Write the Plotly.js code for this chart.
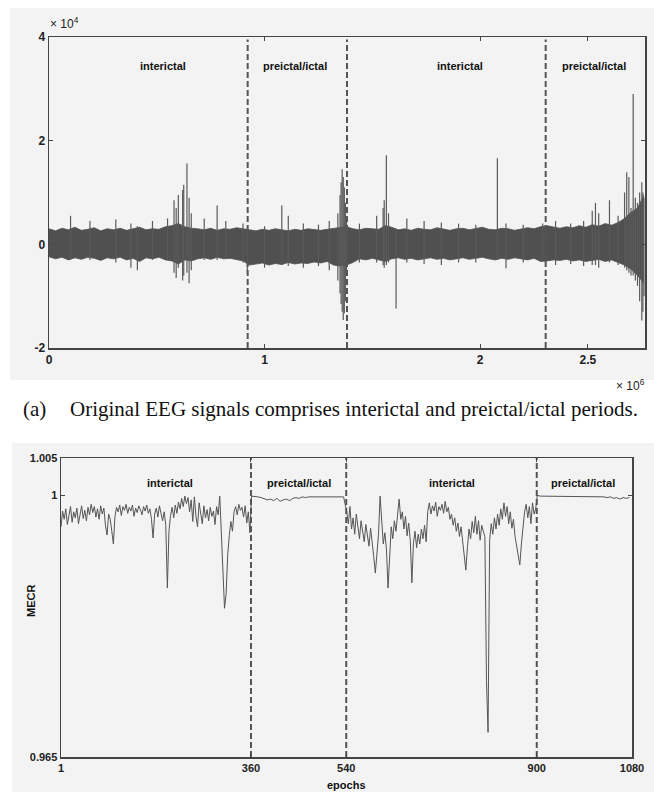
<!DOCTYPE html>
<html>
<head>
<meta charset="utf-8">
<script src="https://cdn.plot.ly/plotly-3.0.1.min.js"></script>
<style>
  html, body { margin: 0; padding: 0; background: #ffffff; }
  #chart { width: 654px; height: 794px; }
</style>
</head>
<body>
<div id="chart"></div>
<script>
// ---------------- DATA ----------------
// Period boundaries (epochs) and labels
const boundaryEpochs = [360, 540, 900];
const periodLabels = ["interictal", "preictal/ictal", "interictal", "preictal/ictal"];
const samplesPerEpoch = 2560;

// Top panel: EEG envelope (x in 1e6 samples, step 0.03; y in 1e4 units)
const envStep = 0.03;
const envUpper = [
  0.30, 0.26, 0.31, 0.28, 0.33, 0.27, 0.29, 0.32, 0.26, 0.30,
  0.28, 0.31, 0.27, 0.30, 0.33, 0.28, 0.30, 0.29, 0.34, 0.36,
  0.40, 0.34, 0.31, 0.30, 0.28, 0.31, 0.27, 0.30, 0.29, 0.32,
  0.30, 0.28, 0.26, 0.29, 0.27, 0.30, 0.28, 0.26, 0.29, 0.27,
  0.30, 0.28, 0.27, 0.29, 0.31, 0.32, 0.34, 0.30, 0.28, 0.31,
  0.30, 0.29, 0.36, 0.33, 0.28, 0.30, 0.27, 0.31, 0.29, 0.28,
  0.32, 0.29, 0.27, 0.30, 0.31, 0.28, 0.30, 0.33, 0.29, 0.28,
  0.31, 0.30, 0.27, 0.29, 0.32, 0.30, 0.34, 0.36, 0.33, 0.31,
  0.34, 0.32, 0.36, 0.33, 0.38, 0.35, 0.40, 0.37, 0.42, 0.50,
  0.62, 0.70, 0.95
];
const envLower = [
  -0.24, -0.28, -0.25, -0.30, -0.26, -0.29, -0.25, -0.27, -0.31, -0.26,
  -0.28, -0.25, -0.30, -0.27, -0.33, -0.26, -0.28, -0.25, -0.30, -0.32,
  -0.38, -0.30, -0.32, -0.28, -0.26, -0.29, -0.25, -0.28, -0.27, -0.30,
  -0.32, -0.40, -0.38, -0.36, -0.40, -0.37, -0.39, -0.35, -0.38, -0.36,
  -0.37, -0.34, -0.36, -0.33, -0.40, -0.42, -0.40, -0.35, -0.28, -0.30,
  -0.27, -0.30, -0.33, -0.28, -0.26, -0.29, -0.27, -0.30, -0.28, -0.26,
  -0.29, -0.27, -0.30, -0.28, -0.26, -0.29, -0.27, -0.25, -0.28, -0.30,
  -0.27, -0.29, -0.26, -0.28, -0.30, -0.27, -0.33, -0.32, -0.30, -0.31,
  -0.29, -0.32, -0.30, -0.33, -0.31, -0.29, -0.33, -0.30, -0.35, -0.40,
  -0.48, -0.60, -0.75
];

// Top panel: individual spikes (x in 1e6 samples, hi/lo in 1e4 units)
const spikeX = [
  0.10, 0.19, 0.31, 0.38, 0.41, 0.48, 0.55, 0.58, 0.59, 0.60, 0.62, 0.625, 0.64, 0.65, 0.66, 0.72, 0.78, 0.82, 0.90, 0.92,
  1.00, 1.08, 1.11, 1.18, 1.25, 1.30, 1.34, 1.35, 1.355, 1.36, 1.365, 1.37, 1.375, 1.38,
  1.44, 1.52, 1.55, 1.555, 1.565, 1.575, 1.61, 1.66, 1.74, 1.82, 1.90, 1.98, 2.08, 2.12, 2.20, 2.29,
  2.35, 2.42, 2.48, 2.52, 2.535, 2.55, 2.60, 2.64, 2.67, 2.68, 2.69, 2.70, 2.71, 2.72, 2.73, 2.74, 2.75, 2.755, 2.76
];
const spikeHi = [
  0.55, 0.45, 0.48, 0.40, 0.35, 0.45, 0.50, 0.85, 0.70, 0.95, 1.05, 1.15, 1.56, 0.90, 0.60, 0.50, 0.75, 0.45, 0.40, 0.30,
  0.35, 0.75, 0.55, 0.40, 0.38, 0.45, 0.60, 0.95, 1.20, 1.45, 1.30, 1.10, 0.80, 0.50,
  0.40, 0.55, 0.70, 0.85, 1.72, 0.60, 0.30, 0.50, 0.45, 0.42, 0.40, 0.38, 1.66, 0.40, 0.38, 0.40,
  0.45, 0.40, 0.45, 0.65, 0.80, 0.60, 0.85, 0.55, 1.00, 1.39, 1.30, 0.70, 2.90, 0.90, 0.80, 1.00, 1.20, 1.00, 0.90
];
const spikeLo = [
  -0.30, -0.30, -0.35, -0.45, -0.50, -0.30, -0.30, -0.55, -0.65, -0.45, -0.70, -0.60, -0.55, -0.75, -0.50, -0.30, -0.30, -0.28, -0.35, -0.55,
  -0.45, -0.40, -0.42, -0.45, -0.42, -0.50, -0.70, -0.95, -1.15, -1.30, -1.46, -1.33, -1.10, -0.60,
  -0.35, -0.35, -0.40, -0.45, -0.40, -0.35, -1.24, -0.35, -0.38, -0.40, -0.35, -0.35, -0.30, -0.46, -0.35, -0.30,
  -0.40, -0.38, -0.42, -0.40, -0.40, -0.45, -0.35, -0.40, -0.45, -0.50, -0.55, -0.60, -0.60, -0.70, -0.80, -1.10, -1.47, -1.30, -1.00
];

// Bottom panel: MECR per epoch
const ic1Start = 1, ic1Step = 3;
const ic1Values = [
  0.9958, 0.9979, 0.9968, 0.9982, 0.9961, 0.9975, 0.9985, 0.9964, 0.9978, 0.9970,
  0.9983, 0.9962, 0.9976, 0.9986, 0.9969, 0.9980, 0.9966, 0.9984, 0.9974, 0.9988,
  0.9977, 0.9985, 0.9971, 0.9982, 0.9968, 0.9986, 0.9975, 0.9983, 0.9960, 0.9947,
  0.9975, 0.9968, 0.9952, 0.9935, 0.9972, 0.9984, 0.9978, 0.9987, 0.9973, 0.9985,
  0.9980, 0.9988, 0.9976, 0.9984, 0.9979, 0.9987, 0.9972, 0.9983, 0.9977, 0.9986,
  0.9981, 0.9974, 0.9985, 0.9979, 0.9987, 0.9976, 0.9982, 0.9968, 0.9943, 0.9975,
  0.9983, 0.9971, 0.9986, 0.9974, 0.9966, 0.9978, 0.9960, 0.9876, 0.9952, 0.9973,
  0.9984, 0.9970, 0.9987, 0.9976, 0.9991, 0.9982, 0.9996, 0.9985, 0.9999, 0.9989,
  0.9997, 0.9978, 0.9994, 0.9965, 0.9998, 0.9972, 0.9958, 0.9990, 0.9975, 0.9962,
  0.9986, 0.9970, 0.9981, 0.9966, 0.9984, 0.9972, 0.9979, 0.9961, 0.9985, 0.9974,
  0.9999, 0.9955, 0.9898, 0.9849, 0.9868, 0.9920, 0.9946, 0.9965, 0.9952, 0.9978,
  0.9985, 0.9974, 0.9988, 0.9980, 0.9984, 0.9971, 0.9986, 0.9963, 0.9978, 0.9950
];
const pre1Start = 361, pre1Step = 6;
const pre1Values = [
  0.9999, 0.9999, 0.9998, 0.9997, 0.9996, 0.9994, 0.9995, 0.9993, 0.9996, 0.9992,
  0.9994, 0.9995, 0.9993, 0.9996, 0.9997, 0.9996, 0.9998, 0.9997, 0.9998, 0.9998,
  0.9999, 0.9998, 0.9999, 0.9999, 0.9999, 0.9999, 0.9998, 0.9999, 0.9999, 0.9998
];
const ic2Start = 541, ic2Step = 3;
const ic2Values = [
  0.9978, 0.9962, 0.9985, 0.9955, 0.9970, 0.9948, 0.9975, 0.9958, 0.9942, 0.9966,
  0.9950, 0.9938, 0.9961, 0.9945, 0.9932, 0.9956, 0.9940, 0.9918, 0.9896, 0.9925,
  0.9948, 0.9999, 0.9960, 0.9935, 0.9950, 0.9928, 0.9876, 0.9910, 0.9958, 0.9942,
  0.9966, 0.9952, 0.9972, 0.9995, 0.9968, 0.9978, 0.9955, 0.9972, 0.9946, 0.9963,
  0.9940, 0.9883, 0.9936, 0.9952, 0.9930, 0.9948, 0.9935, 0.9955, 0.9942, 0.9960,
  0.9938, 0.9978, 0.9990, 0.9975, 0.9986, 0.9979, 0.9991, 0.9972, 0.9985, 0.9980,
  0.9988, 0.9976, 0.9992, 0.9978, 0.9984, 0.9968, 0.9975, 0.9960, 0.9970, 0.9952,
  0.9963, 0.9945, 0.9958, 0.9938, 0.9921, 0.9900, 0.9930, 0.9955, 0.9942, 0.9965,
  0.9950, 0.9972, 0.9948, 0.9966, 0.9940, 0.9960, 0.9952, 0.9945, 0.9752, 0.9683,
  0.9940, 0.9962, 0.9948, 0.9970, 0.9955, 0.9975, 0.9960, 0.9982, 0.9968, 0.9990,
  0.9972, 0.9985, 0.9962, 0.9978, 0.9956, 0.9968, 0.9945, 0.9930, 0.9918, 0.9907,
  0.9935, 0.9960, 0.9978, 0.9988, 0.9970, 0.9985, 0.9962, 0.9990, 0.9975, 0.9982
];
const pre2Start = 901, pre2Step = 6;
const pre2Values = [
  1.0000, 0.9999, 0.9999, 0.9999, 0.9999, 0.9998, 0.9999, 0.9999, 0.9999, 0.9998,
  0.9999, 0.9999, 0.9999, 0.9999, 0.9998, 0.9999, 0.9999, 0.9998, 0.9999, 0.9998,
  0.9999, 0.9998, 0.9997, 0.9998, 0.9996, 0.9997, 0.9995, 0.9997, 0.9996, 0.9997
];

// Tick labels
const topXTicks = [0, 1, 2, 2.5];
const topYTicks = [-2, 0, 2, 4];
const botXTicks = [1, 360, 540, 900, 1080];
const botYTicks = [0.965, 1, 1.005];
const botYTickText = ["0.965", "1", "1.005"];
const captionTag = "(a)";
const captionText = "Original EEG signals comprises interictal and preictal/ictal periods.";

// ---------------- BUILD ----------------
function seqX(start, step, n) { const a = []; for (let i = 0; i < n; i++) a.push(start + i * step); return a; }

const envX = seqX(0, envStep, envUpper.length);
const spX = [], spY = [];
spikeX.forEach((x, i) => { spX.push(x, x, null); spY.push(spikeLo[i], spikeHi[i], null); });

const mecrX = [].concat(
  seqX(ic1Start, ic1Step, ic1Values.length),
  seqX(pre1Start, pre1Step, pre1Values.length),
  seqX(ic2Start, ic2Step, ic2Values.length),
  seqX(pre2Start, pre2Step, pre2Values.length)
);
const mecrY = [].concat(ic1Values, pre1Values, ic2Values, pre2Values);

const topBoundX = boundaryEpochs.map(e => e * samplesPerEpoch / 1e6);
const topMaxX = 1080 * samplesPerEpoch / 1e6;

const sigColor = '#505050';
const traces = [];
traces.push({ x: envX, y: envLower, xaxis: 'x', yaxis: 'y', mode: 'lines', line: { color: sigColor, width: 0.8 }, hoverinfo: 'skip', showlegend: false });
traces.push({ x: envX, y: envUpper, xaxis: 'x', yaxis: 'y', mode: 'lines', fill: 'tonexty', fillcolor: sigColor, line: { color: sigColor, width: 0.8 }, hoverinfo: 'skip', showlegend: false });
traces.push({ x: spX, y: spY, xaxis: 'x', yaxis: 'y', mode: 'lines', line: { color: '#5a5a5a', width: 1.2 }, hoverinfo: 'skip', showlegend: false, connectgaps: false });
topBoundX.forEach(bx => traces.push({ x: [bx, bx], y: [-2, 3.95], xaxis: 'x', yaxis: 'y', mode: 'lines', line: { color: '#555', width: 2, dash: '6px,3px' }, showlegend: false, hoverinfo: 'skip' }));
traces.push({ x: mecrX, y: mecrY, xaxis: 'x2', yaxis: 'y2', mode: 'lines', line: { color: '#555555', width: 1 }, showlegend: false, hoverinfo: 'skip' });
boundaryEpochs.forEach(be => traces.push({ x: [be, be], y: [0.965, 1.005], xaxis: 'x2', yaxis: 'y2', mode: 'lines', line: { color: '#555', width: 2, dash: '6px,3px' }, showlegend: false, hoverinfo: 'skip' }));

const W = 654, H = 794;
const px = v => v / W, py = v => 1 - v / H;
const tickFont = { family: 'Liberation Sans, Arial, sans-serif', size: 12, color: '#222', weight: 'bold' };
const lblFont = { family: 'Liberation Sans, Arial, sans-serif', size: 11, color: '#111', weight: 'bold' };
const axCommon = { showline: true, linecolor: '#444', linewidth: 1.5, mirror: 'ticks', ticks: 'inside', ticklen: 4, tickcolor: '#444', showgrid: false, zeroline: false, tickfont: tickFont, fixedrange: true };

const topLabelX = [0.529, 1.141, 1.906, 2.528];
const botLabelX = [207, 451, 740, 988];

const annotations = [];
periodLabels.forEach((t, i) => {
  annotations.push({ text: t, x: topLabelX[i], y: 3.44, xref: 'x', yref: 'y', showarrow: false, font: lblFont });
  annotations.push({ text: t, x: botLabelX[i], y: 1.0016, xref: 'x2', yref: 'y2', showarrow: false, font: lblFont });
});
const expFont = { family: 'Liberation Sans, Arial, sans-serif', size: 12, color: '#222' };
annotations.push({ text: '× 10<sup>4</sup>', x: px(48), y: py(23), xref: 'paper', yref: 'paper', xanchor: 'left', yanchor: 'middle', showarrow: false, font: expFont });
annotations.push({ text: '× 10<sup>6</sup>', x: px(647), y: py(385), xref: 'paper', yref: 'paper', xanchor: 'right', yanchor: 'middle', showarrow: false, font: expFont });
const capFont = { family: 'Liberation Serif, Times New Roman, serif', size: 21, color: '#111' };
annotations.push({ text: captionTag, x: px(21), y: py(409), xref: 'paper', yref: 'paper', xanchor: 'left', yanchor: 'middle', showarrow: false, font: capFont });
annotations.push({ text: captionText, x: px(68), y: py(409), xref: 'paper', yref: 'paper', xanchor: 'left', yanchor: 'middle', showarrow: false, font: capFont });
annotations.push({ text: 'MECR', x: px(31), y: py(601), xref: 'paper', yref: 'paper', xanchor: 'center', yanchor: 'middle', textangle: -90, showarrow: false, font: lblFont });
annotations.push({ text: 'epochs', x: px(346), y: py(785), xref: 'paper', yref: 'paper', xanchor: 'center', yanchor: 'middle', showarrow: false, font: lblFont });

const layout = {
  width: W, height: H,
  margin: { l: 0, r: 0, t: 0, b: 0 },
  paper_bgcolor: '#ffffff',
  plot_bgcolor: '#f9f9f9',
  showlegend: false,
  shapes: [
    { type: 'rect', xref: 'paper', yref: 'paper', x0: px(10), x1: 1, y0: py(380), y1: py(8), fillcolor: '#f3f3f3', line: { width: 0 }, layer: 'below' },
    { type: 'rect', xref: 'paper', yref: 'paper', x0: px(12), x1: 1, y0: py(792), y1: py(443), fillcolor: '#f3f3f3', line: { width: 0 }, layer: 'below' }
  ],
  xaxis: Object.assign({}, axCommon, { domain: [px(49), px(645)], anchor: 'y', range: [0, topMaxX], tickvals: topXTicks, ticktext: topXTicks.map(String) }),
  yaxis: Object.assign({}, axCommon, { domain: [py(348), py(37)], anchor: 'x', range: [-2, 4], tickvals: topYTicks, ticktext: topYTicks.map(String) }),
  xaxis2: Object.assign({}, axCommon, { domain: [px(61), px(632)], anchor: 'y2', range: [1, 1080], tickvals: botXTicks, ticktext: botXTicks.map(String), tickfont: Object.assign({}, tickFont, { size: 11 }) }),
  yaxis2: Object.assign({}, axCommon, { domain: [py(757), py(458)], anchor: 'x2', range: [0.965, 1.005], tickvals: botYTicks, ticktext: botYTickText, tickfont: Object.assign({}, tickFont, { size: 11 }) }),
  annotations: annotations
};

Plotly.newPlot('chart', traces, layout, { staticPlot: true, displayModeBar: false });
</script>
</body>
</html>
